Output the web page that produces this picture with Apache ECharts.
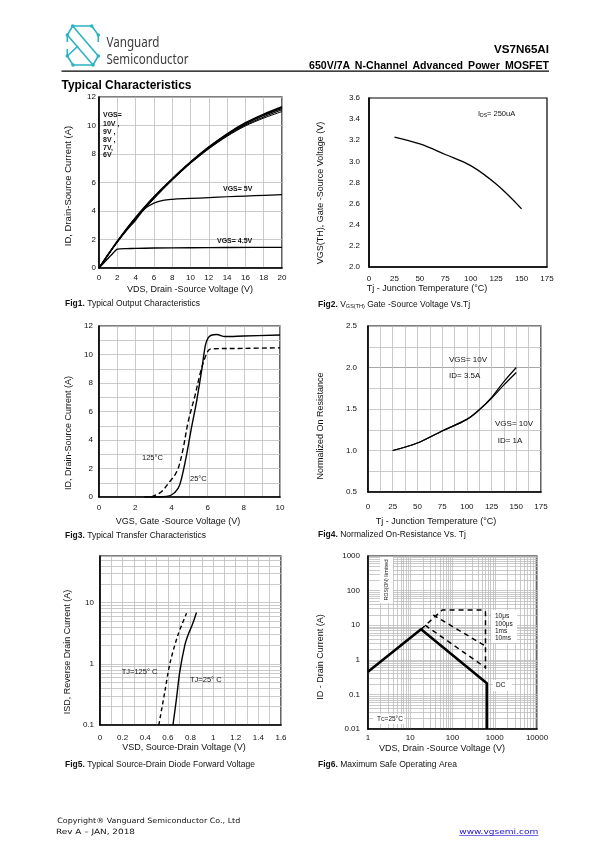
<!DOCTYPE html>
<html><head><meta charset="utf-8">
<script src="https://cdn.jsdelivr.net/npm/echarts@6/dist/echarts.min.js"></script>
<style>
html,body{margin:0;padding:0;background:#fff;}
#wrap{position:relative;width:595px;height:842px;overflow:hidden;background:#fff;}
#chart{position:absolute;left:0;top:0;width:595px;height:842px;}
#ov{position:absolute;left:0;top:0;width:595px;height:842px;pointer-events:none;}
</style></head><body>
<div id="wrap">
<div id="chart"></div>
<svg id="ov" width="595" height="842" xmlns="http://www.w3.org/2000/svg">
  <g stroke="#2bb3c4" stroke-width="1.6" fill="none" stroke-linejoin="round">
    <path d="M72.7,26 H91.7 L98.3,35 L98.3,42"/>
    <path d="M72.7,26 L67.3,35 L67.3,42"/>
    <path d="M67.3,35 L93,65"/>
    <path d="M72.7,26 L98.3,56"/>
    <path d="M67.3,49 L67.3,56 L73,65 H93 L98.3,56"/>
    <path d="M67.3,56 L78,46"/>
  </g>
  <g fill="#2bb3c4">
    <circle cx="72.7" cy="26" r="1.8"/><circle cx="91.7" cy="26" r="1.8"/>
    <circle cx="67.3" cy="35" r="1.8"/><circle cx="98.3" cy="35" r="1.8"/>
    <circle cx="67.3" cy="56" r="1.8"/><circle cx="98.3" cy="56" r="1.8"/>
    <circle cx="73" cy="65" r="1.8"/><circle cx="93" cy="65" r="1.8"/>
  </g>
  <text x="106.5" y="46.5" font-family="Noto Sans, Open Sans, sans-serif" font-size="14.5" fill="#3c3c3c" textLength="53" lengthAdjust="spacingAndGlyphs">Vanguard</text>
  <text x="106.5" y="63.5" font-family="Noto Sans, Open Sans, sans-serif" font-size="14.5" fill="#3c3c3c" textLength="82" lengthAdjust="spacingAndGlyphs">Semiconductor</text>
  <text x="494" y="52.7" font-family="Liberation Sans, Arial, sans-serif" font-size="11.5" font-weight="bold" fill="#000" textLength="55" lengthAdjust="spacingAndGlyphs">VS7N65AI</text>
  <text x="309" y="69" font-family="Liberation Sans, Arial, sans-serif" font-size="10" font-weight="bold" fill="#000" textLength="240" lengthAdjust="spacingAndGlyphs" word-spacing="2">650V/7A N-Channel Advanced Power MOSFET</text>
  <line x1="61.5" y1="71.2" x2="549" y2="71.2" stroke="#000" stroke-width="1.2"/>
  <text x="61.5" y="89" font-family="Liberation Sans, Arial, sans-serif" font-size="12" font-weight="bold" fill="#000" textLength="130" lengthAdjust="spacingAndGlyphs">Typical Characteristics</text>
  <text x="57.3" y="823" font-family="DejaVu Sans, sans-serif" font-size="7.3" fill="#111" textLength="183" lengthAdjust="spacingAndGlyphs">Copyright® Vanguard Semiconductor Co., Ltd</text>
  <text x="56" y="834" font-family="DejaVu Sans, sans-serif" font-size="7.3" fill="#111" textLength="79" lengthAdjust="spacingAndGlyphs">Rev A – JAN, 2018</text>
  <text x="459.3" y="834" font-family="DejaVu Sans, sans-serif" font-size="7.3" fill="#1a0dcc" textLength="79" lengthAdjust="spacingAndGlyphs">www.vgsemi.com</text>
  <line x1="459.3" y1="835.5" x2="538.3" y2="835.5" stroke="#1a0dcc" stroke-width="0.6"/>
</svg>
</div>
<script>
// ================= DATA =================
// Fig1 Typical Output Characteristics
const fig1_vds = [0,1,2,3,4,5,6,7,8,9,10,12,14,16,18,20];
const fig1_id_vgs10 = [0,0.95,1.88,2.75,3.55,4.3,5.0,5.65,6.27,6.87,7.45,8.5,9.42,10.2,10.8,11.32];
const fig1_id_vgs9  = [0,0.95,1.87,2.73,3.52,4.27,4.97,5.62,6.24,6.84,7.42,8.47,9.38,10.15,10.75,11.27];
const fig1_id_vgs8  = [0,0.94,1.85,2.7,3.5,4.24,4.94,5.6,6.22,6.82,7.4,8.44,9.35,10.1,10.7,11.2];
const fig1_id_vgs7  = [0,0.94,1.84,2.68,3.47,4.2,4.9,5.57,6.2,6.8,7.38,8.4,9.3,10.03,10.6,11.1];
const fig1_id_vgs6  = [0,0.93,1.82,2.65,3.42,4.15,4.85,5.52,6.16,6.76,7.34,8.36,9.24,9.97,10.52,10.98];
const fig1_vds_5 = [0,1,2,3,4,5,6,7,8,10,12,14,16,18,20];
const fig1_id_vgs5 = [0,0.94,1.82,2.62,3.35,4.15,4.55,4.75,4.82,4.88,4.94,5.0,5.05,5.1,5.15];
const fig1_vds_45 = [0,1,1.5,2,3,4,6,10,14,20];
const fig1_id_vgs45 = [0,0.68,1.02,1.32,1.36,1.38,1.4,1.42,1.44,1.45];
// Fig2 VGS(TH) vs Tj
const fig2_tj = [25,50,75,100,125,150];
const fig2_vth = [3.23,3.165,3.065,2.96,2.785,2.55];
// Fig3 Transfer characteristics
const fig3_vgs_25 = [2.5,3,3.5,4,4.37,4.56,4.83,5.1,5.39,5.66,5.88,6.03,6.2,6.5,6.96,8,10];
const fig3_id_25  = [0,0,0.02,0.14,0.6,1.3,2.9,4.8,6.7,8.8,10.65,11.17,11.35,11.4,11.26,11.3,11.37];
const fig3_vgs_125 = [2.9,3.45,3.9,4.19,4.4,4.65,4.93,5.3,5.66,6.0,6.2,8,10];
const fig3_id_125  = [0,0.37,1.07,1.54,2.1,3.4,5.3,7.1,9.0,10.2,10.4,10.43,10.47];
// Fig4 Normalized on-resistance vs Tj
const fig4_tj = [25,50,75,100,112.5,125,137.5,150];
const fig4_r_3p5a = [1.0,1.09,1.235,1.375,1.49,1.64,1.83,2.0];
const fig4_r_1a   = [1.0,1.09,1.235,1.375,1.49,1.63,1.79,1.94];
// Fig5 Source-drain diode forward voltage
const fig5_vsd_25 = [0.645,0.676,0.705,0.75,0.78,0.815,0.853];
const fig5_isd_25 = [0.1,0.27,0.74,2.03,3.03,4.3,6.9];
const fig5_vsd_125 = [0.52,0.573,0.617,0.69,0.765];
const fig5_isd_125 = [0.1,0.35,1.0,3.0,6.7];
// Fig6 Safe operating area
const fig6_vds_dc = [1,18,650,650];
const fig6_id_dc  = [0.45,7.6,0.21,0.01];
const fig6_vds_10us = [18,57,530,600,604,604];
const fig6_id_10us  = [7.6,27.4,27.4,25,20,0.55];
const fig6_vds_100us = [35,600];
const fig6_id_100us  = [19.7,2.5];
const fig6_vds_1ms = [22.5,600];
const fig6_id_1ms  = [10,0.6];
// tick labels
const fig5_ytick_labels = [0.1,1,10];
const fig6_xtick_labels = [1,10,100,1000,10000];
const fig6_ytick_labels = [0.01,0.1,1,10,100,1000];
const fig1_vgs_labels = ['VGS=','10V ,','9V ,','8V ,','7V,','6V'];

// ================= LAYOUT / STYLE =================
const LBL = "'Liberation Sans Narrow','Liberation Sans',Arial,sans-serif";
const TXT = "'Liberation Sans',Arial,sans-serif";
const GRID_C = '#bdbdbd';
const grids = [
  {left:99, top:97, width:183, height:171},
  {left:369, top:98, width:178, height:169},
  {left:99, top:326, width:181, height:171},
  {left:368, top:326, width:173, height:166},
  {left:100, top:556, width:181, height:169},
  {left:368, top:556, width:169, height:173}
].map(g => Object.assign({show:true, borderColor:'#000', borderWidth:1.2, backgroundColor:'transparent', containLabel:false}, g));

const zip = (xs, ys) => xs.map((x, i) => [x, ys[i]]);
function near(v, list){ for (const t of list){ if (Math.abs(Math.log10(v) - Math.log10(t)) < 1e-6) return String(t); } return ''; }

function ax(gi, o){
  const base = {
    gridIndex: gi, type:'value', z:3,
    axisLine:{show:true, onZero:false, lineStyle:{color:'#000', width:1.6}},
    axisTick:{show:false},
    splitLine:{show:true, lineStyle:{color:GRID_C, width:0.8}},
    axisLabel:{color:'#111', fontSize:8, fontFamily:LBL, interval:0, showMinLabel:true, showMaxLabel:true, margin:o.margin},
  };
  const r = Object.assign(base, o);
  delete r.margin;
  if (o.fmt) { r.axisLabel.formatter = o.fmt; delete r.fmt; }
  if (o.split === false) { r.splitLine = {show:false}; delete r.split; }
  return r;
}

const xAxes = [
  ax(0,{min:0,max:20,interval:2,margin:6}),
  ax(1,{min:0,max:175,interval:25,margin:8,split:false}),
  ax(2,{min:0,max:10,interval:1,margin:7,fmt:v=>(Math.round(v)%2===0?String(Math.round(v)):'')}),
  ax(3,{min:0,max:175,interval:12.5,margin:11,fmt:v=>(Math.abs(v%25)<1e-6?String(v):'')}),
  ax(4,{min:0,max:1.6,interval:0.1,margin:9,fmt:v=>{const k=Math.round(v*10); if(k%2) return ''; return k%10===0?String(k/10):(k/10).toFixed(1);}}),
  ax(5,{type:'log',logBase:10,min:1,max:10000,margin:5,fmt:v=>near(v,fig6_xtick_labels)})
];
const yAxes = [
  ax(0,{min:0,max:12,interval:2,margin:3}),
  ax(1,{min:2.0,max:3.6,interval:0.2,margin:9,split:false,fmt:v=>v.toFixed(1)}),
  ax(2,{min:0,max:12,interval:1,margin:6,fmt:v=>(Math.round(v)%2===0?String(Math.round(v)):'')}),
  ax(3,{min:0.5,max:2.5,interval:0.25,margin:11,fmt:v=>(Math.abs((v*2)-Math.round(v*2))<1e-6?v.toFixed(1):'')}),
  ax(4,{type:'log',logBase:10,min:0.1,max:58,margin:6,fmt:v=>near(v,fig5_ytick_labels)}),
  ax(5,{type:'log',logBase:10,min:0.01,max:1000,margin:8,fmt:v=>near(v,fig6_ytick_labels)})
];

function line(gi, data, o){
  o = o || {};
  return {type:'line', xAxisIndex:gi, yAxisIndex:gi, data, showSymbol:false, symbol:'none',
    smooth:o.smooth===undefined?0.3:o.smooth, z:12, silent:true,
    lineStyle:{color:'#000', width:o.width||1.2, type:o.dash||'solid'}};
}
function minorLog(lo, hi, max){ const out=[]; for(let e=lo;e<hi;e++){ for(let k=2;k<=9;k++){ const v=k*Math.pow(10,e); if(v<max) out.push(v);} } return out; }
function gridSeries(gi, anchor, xs, ys){
  const d = xs.map(v=>({xAxis:v})).concat(ys.map(v=>({yAxis:v})));
  return {type:'line', xAxisIndex:gi, yAxisIndex:gi, data:[anchor], showSymbol:false, symbol:'none', z:0, silent:true,
    lineStyle:{opacity:0},
    markLine:{silent:true, z:1, animation:false, symbol:['none','none'], label:{show:false}, lineStyle:{color:GRID_C, width:0.8, type:'solid'}, data:d}};
}

const series = [
  // Fig1
  line(0, zip(fig1_vds, fig1_id_vgs10), {width:1.3}),
  line(0, zip(fig1_vds, fig1_id_vgs9), {width:1.3}),
  line(0, zip(fig1_vds, fig1_id_vgs8), {width:1.3}),
  line(0, zip(fig1_vds, fig1_id_vgs7), {width:1.1}),
  line(0, zip(fig1_vds, fig1_id_vgs6), {width:1.0}),
  line(0, zip(fig1_vds_5, fig1_id_vgs5), {width:1.2, smooth:0.35}),
  line(0, zip(fig1_vds_45, fig1_id_vgs45), {width:1.4, smooth:0.15}),
  // Fig2
  line(1, zip(fig2_tj, fig2_vth), {width:1.3, smooth:0.4}),
  // Fig3
  line(2, zip(fig3_vgs_25, fig3_id_25), {width:1.4, smooth:0.35}),
  line(2, zip(fig3_vgs_125, fig3_id_125), {width:1.4, smooth:0.35, dash:[5,3]}),
  // Fig4
  line(3, zip(fig4_tj, fig4_r_3p5a), {width:1.2, smooth:0.35}),
  line(3, zip(fig4_tj, fig4_r_1a), {width:1.2, smooth:0.35}),
  {type:'line', xAxisIndex:3, yAxisIndex:3, data:[[0,0.5]], showSymbol:false, symbol:'none', z:1, silent:true, lineStyle:{opacity:0},
   markLine:{silent:true, z:2, animation:false, symbol:['none','none'], label:{show:false}, lineStyle:{color:'#555', width:1, type:'solid'}, data:[{yAxis:2.0}]}},
  // Fig5
  gridSeries(4, [0,0.1], [], minorLog(-1,2,58)),
  line(4, zip(fig5_vsd_25, fig5_isd_25), {width:1.4, smooth:0.3}),
  line(4, zip(fig5_vsd_125, fig5_isd_125), {width:1.4, smooth:0.3, dash:[4,3]}),
  // Fig6
  gridSeries(5, [1,0.01], minorLog(0,4,10000), minorLog(-2,3,1000)),
  line(5, zip(fig6_vds_dc, fig6_id_dc), {width:2.6, smooth:0}),
  line(5, zip(fig6_vds_10us, fig6_id_10us), {width:1.5, smooth:0, dash:[5,4]}),
  line(5, zip(fig6_vds_100us, fig6_id_100us), {width:1.5, smooth:0, dash:[5,4]}),
  line(5, zip(fig6_vds_1ms, fig6_id_1ms), {width:1.5, smooth:0, dash:[5,4]})
];

// ================= TEXT =================
function T(x, y, text, o){
  o = o || {};
  return {type:'text', x, y, z:20, silent:true, rotation:o.rot||0,
    style:{text, fill:o.color||'#111', fontSize:o.size||9, fontFamily:o.family||TXT, fontWeight:o.weight||'normal',
      textAlign:o.align||'left', textVerticalAlign:'middle', rich:o.rich}};
}
function R(x,y,w,h){ return {type:'rect', z:8, silent:true, shape:{x,y,width:w,height:h}, style:{fill:'#fff'}}; }
const capRich = {b:{fontWeight:'bold', fontSize:8.5, fontFamily:TXT, fill:'#111'}, s:{fontSize:5.5, fontFamily:TXT, fill:'#111', verticalAlign:'bottom'}};
const subRich = {s:{fontSize:5, fontFamily:LBL, fill:'#111', verticalAlign:'bottom'}};
const YR = Math.PI/2;
const graphic = [
  // axis titles
  T(190,290,'VDS, Drain -Source Voltage (V)',{align:'center'}),
  T(427,289,'Tj - Junction Temperature (°C)',{align:'center'}),
  T(178,522,'VGS, Gate -Source Voltage (V)',{align:'center'}),
  T(436,522,'Tj - Junction Temperature (°C)',{align:'center'}),
  T(184,748,'VSD, Source-Drain Voltage (V)',{align:'center'}),
  T(442,749,'VDS, Drain -Source Voltage (V)',{align:'center'}),
  T(68,186,'ID, Drain-Source Current (A)',{align:'center',rot:YR,size:9.5}),
  T(321,193,'VGS(TH), Gate -Source Voltage (V)',{align:'center',rot:YR}),
  T(69,433,'ID, Drain-Source Current (A)',{align:'center',rot:YR}),
  T(321,426,'Normalized On Resistance',{align:'center',rot:YR}),
  T(68,652,'ISD, Reverse Drain Current (A)',{align:'center',rot:YR}),
  T(321,657,'ID - Drain Current (A)',{align:'center',rot:YR}),
  // captions
  T(65,304,'{b|Fig1.} Typical Output Characteristics',{size:8.5,rich:capRich}),
  T(318,305,'{b|Fig2.} V{s|GS(TH)} Gate -Source Voltage Vs.Tj',{size:8.5,rich:capRich}),
  T(65,536,'{b|Fig3.} Typical Transfer Characteristics',{size:8.5,rich:capRich}),
  T(318,535,'{b|Fig4.} Normalized On-Resistance Vs. Tj',{size:8.5,rich:capRich}),
  T(65,765,'{b|Fig5.} Typical Source-Drain Diode Forward Voltage',{size:8.5,rich:capRich}),
  T(318,765,'{b|Fig6.} Maximum Safe Operating Area',{size:8.5,rich:capRich}),
  // fig1 annotations
  ...fig1_vgs_labels.map((s,i)=>T(103,[115,124,132,140,148,155][i],s,{size:7,weight:'bold',family:LBL})),
  T(223,189,'VGS= 5V',{size:7,weight:'bold',family:LBL}),
  T(217,241.5,'VGS= 4.5V',{size:7,weight:'bold',family:LBL}),
  // fig2
  T(478,114,'I{s|DS}= 250uA',{size:7.5,family:LBL,rich:subRich}),
  // fig3
  T(142,458,'125°C',{size:7.5,family:LBL}),
  T(190,479,'25°C',{size:7.5,family:LBL}),
  // fig4
  T(449,360,'VGS= 10V',{size:8,family:LBL}),
  T(449,376,'ID= 3.5A',{size:8,family:LBL}),
  T(495,424,'VGS= 10V',{size:8,family:LBL}),
  T(497.7,441,'ID= 1A',{size:8,family:LBL}),
  // fig5
  T(121.7,671.7,'TJ=125° C',{size:7.5,family:LBL}),
  T(190,680,'TJ=25° C',{size:7.5,family:LBL}),
  // fig6
  R(380,557,13,46), R(491,610,26,33), R(493,680,19,11), R(373,714,31,10),
  T(495,616,'10μs',{size:6.5,family:LBL}),
  T(495,624,'100μs',{size:6.5,family:LBL}),
  T(495,631,'1ms',{size:6.5,family:LBL}),
  T(495,638,'10ms',{size:6.5,family:LBL}),
  T(496,685,'DC',{size:6.5,family:LBL}),
  T(377,719,'T{s|C}=25°C',{size:6.5,family:LBL,rich:subRich}),
  T(386,580,'R{s|DS(ON)} limited',{size:6,family:LBL,align:'center',rot:YR,rich:subRich})
];

const chart = echarts.init(document.getElementById('chart'), null, {renderer:'canvas', width:595, height:842});
chart.setOption({
  animation:false,
  backgroundColor:'transparent',
  textStyle:{fontFamily:TXT},
  grid:grids, xAxis:xAxes, yAxis:yAxes, series, graphic
});
</script>
</body></html>
